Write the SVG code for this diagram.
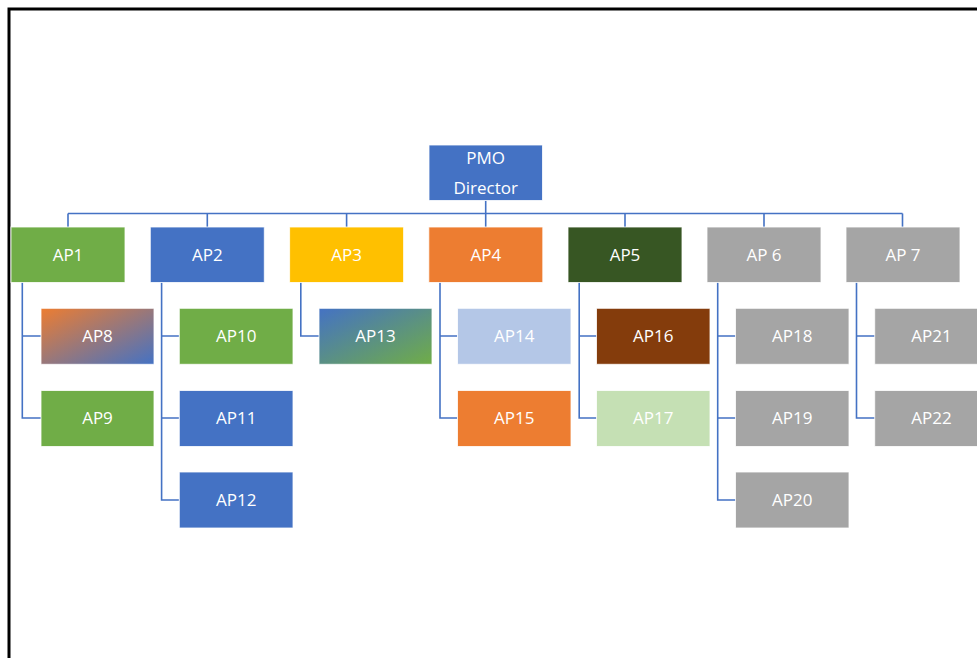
<svg xmlns="http://www.w3.org/2000/svg" width="977" height="658" viewBox="0 0 977 658">
<defs>
<linearGradient id="g8" x1="0" y1="0" x2="1" y2="1"><stop offset="0" stop-color="#ED7D31"/><stop offset="1" stop-color="#4472C4"/></linearGradient>
<linearGradient id="g13" x1="0" y1="0" x2="1" y2="1"><stop offset="0" stop-color="#4472C4"/><stop offset="1" stop-color="#70AD47"/></linearGradient>
<style>
.n{stroke:#ffffff;stroke-width:1;stroke-opacity:0.8}
.t{font-family:"Open Sans","Noto Sans",sans-serif;font-size:17px;fill:#ffffff;text-anchor:middle}
.c{fill:none;stroke:#4472C4;stroke-width:1.6}
</style>
</defs>
<rect width="977" height="658" fill="#ffffff"/>
<path d="M9 658 V9 H977" fill="none" stroke="#000" stroke-width="3"/>
<g id="connectors">
<path class="c" d="M485.7 200.5 V213.5 M68 213.5 H902.5 M68 213.5 V227 M207.3 213.5 V227 M346.6 213.5 V227 M485.7 213.5 V227 M625 213.5 V227 M764 213.5 V227 M902.5 213.5 V227"/>
<path class="c" d="M22.3 282 V418 H41 M22.3 336 H41"/>
<path class="c" d="M161.6 282 V500 H179 M161.6 336 H179 M161.6 418 H179"/>
<path class="c" d="M300.8 282 V336 H319"/>
<path class="c" d="M440 282 V418 H457.5 M440 336 H457.5"/>
<path class="c" d="M579.2 282 V418 H597 M579.2 336 H597"/>
<path class="c" d="M717.7 282 V500 H736 M717.7 336 H736 M717.7 418 H736"/>
<path class="c" d="M856.5 282 V418 H875 M856.5 336 H875"/>
</g>
<g id="pmo"><rect class="n" x="429" y="145" width="113.5" height="55.5" fill="#4472C4"/><text class="t" x="485.7" y="163.5">PMO</text><text class="t" x="485.7" y="194.3">Director</text></g>
<g id="ap1"><rect class="n" x="11" y="227" width="114" height="55.5" fill="#70AD47"/><text class="t" x="68" y="260.5">AP1</text></g>
<g id="ap2"><rect class="n" x="150.3" y="227" width="114" height="55.5" fill="#4472C4"/><text class="t" x="207.3" y="260.5">AP2</text></g>
<g id="ap3"><rect class="n" x="289.6" y="227" width="114" height="55.5" fill="#FFC000"/><text class="t" x="346.6" y="260.5">AP3</text></g>
<g id="ap4"><rect class="n" x="428.8" y="227" width="114" height="55.5" fill="#ED7D31"/><text class="t" x="485.8" y="260.5">AP4</text></g>
<g id="ap5"><rect class="n" x="568" y="227" width="114" height="55.5" fill="#375623"/><text class="t" x="625" y="260.5">AP5</text></g>
<g id="ap6"><rect class="n" x="707" y="227" width="114" height="55.5" fill="#A5A5A5"/><text class="t" x="764" y="260.5">AP 6</text></g>
<g id="ap7"><rect class="n" x="846" y="227" width="114" height="55.5" fill="#A5A5A5"/><text class="t" x="903" y="260.5">AP 7</text></g>
<g id="ap8"><rect class="n" x="41" y="308.3" width="113" height="56" fill="url(#g8)"/><text class="t" x="97.5" y="342">AP8</text></g>
<g id="ap9"><rect class="n" x="41" y="390.5" width="113" height="56" fill="#70AD47"/><text class="t" x="97.5" y="424">AP9</text></g>
<g id="ap10"><rect class="n" x="179.3" y="308.3" width="113.7" height="56" fill="#70AD47"/><text class="t" x="236.2" y="342">AP10</text></g>
<g id="ap11"><rect class="n" x="179.3" y="390.5" width="113.7" height="56" fill="#4472C4"/><text class="t" x="236.2" y="424">AP11</text></g>
<g id="ap12"><rect class="n" x="179.3" y="472" width="113.7" height="56" fill="#4472C4"/><text class="t" x="236.2" y="505.5">AP12</text></g>
<g id="ap13"><rect class="n" x="319" y="308.3" width="113" height="56" fill="url(#g13)"/><text class="t" x="375.5" y="342">AP13</text></g>
<g id="ap14"><rect class="n" x="457.5" y="308.3" width="113.5" height="56" fill="#B4C7E7"/><text class="t" x="514.2" y="342">AP14</text></g>
<g id="ap15"><rect class="n" x="457.5" y="390.5" width="113.5" height="56" fill="#ED7D31"/><text class="t" x="514.2" y="424">AP15</text></g>
<g id="ap16"><rect class="n" x="596.5" y="308.3" width="113.5" height="56" fill="#843C0C"/><text class="t" x="653.2" y="342">AP16</text></g>
<g id="ap17"><rect class="n" x="596.5" y="390.5" width="113.5" height="56" fill="#C5E0B4"/><text class="t" x="653.2" y="424">AP17</text></g>
<g id="ap18"><rect class="n" x="735.5" y="308.3" width="113.5" height="56" fill="#A5A5A5"/><text class="t" x="792.2" y="342">AP18</text></g>
<g id="ap19"><rect class="n" x="735.5" y="390.5" width="113.5" height="56" fill="#A5A5A5"/><text class="t" x="792.2" y="424">AP19</text></g>
<g id="ap20"><rect class="n" x="735.5" y="472" width="113.5" height="56" fill="#A5A5A5"/><text class="t" x="792.2" y="505.5">AP20</text></g>
<g id="ap21"><rect class="n" x="874.7" y="308.3" width="113.5" height="56" fill="#A5A5A5"/><text class="t" x="931.4" y="342">AP21</text></g>
<g id="ap22"><rect class="n" x="874.7" y="390.5" width="113.5" height="56" fill="#A5A5A5"/><text class="t" x="931.4" y="424">AP22</text></g>
</svg>
